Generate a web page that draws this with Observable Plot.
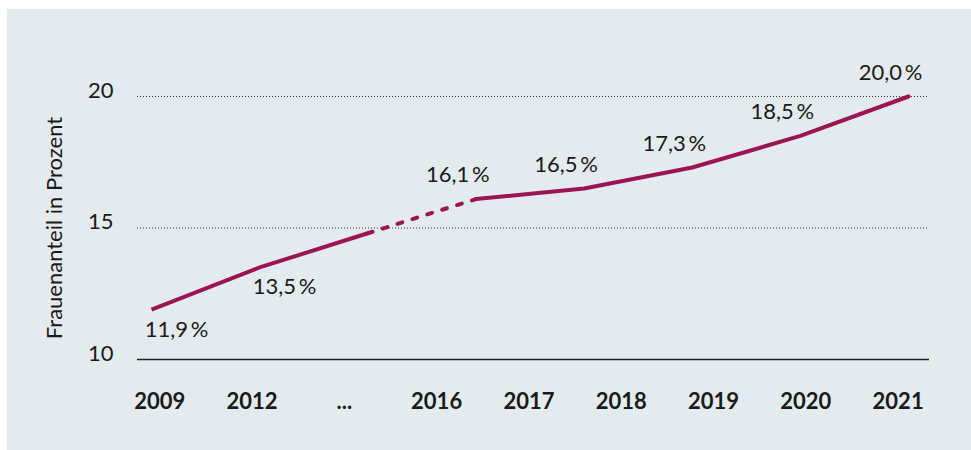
<!DOCTYPE html>
<html>
<head>
<meta charset="utf-8">
<script src="https://cdn.jsdelivr.net/npm/d3@7"></script>
<script src="https://cdn.jsdelivr.net/npm/@observablehq/plot@0.6"></script>
<style>
  body { margin: 0; background: #ffffff; }
  #chart { position: absolute; left: 7px; top: 9px; width: 964px; height: 441px; background: #e4ebee; }
  #chart svg { display: block; }
</style>
</head>
<body>
<div id="chart"></div>
<script>
// Axis categories (tick labels along the bottom)
const tickLabels = ["2009", "2012", "...", "2016", "2017", "2018", "2019", "2020", "2021"];
// Values (share of women, percent), in order along the line
const values = [11.9, 13.5, 16.1, 16.5, 17.3, 18.5, 20.0];
// Slot of each value along the line (slot 2 is the gap: "...")
const slots = [0, 1, 3, 4, 5, 6, 7];
// Value where the line turns from solid to dashed
const breakSlot = 2;
const breakValue = 14.8;
const yTicks = [10, 15, 20];
const yTitle = "Frauenanteil in Prozent";

const fmt = v => v.toFixed(1).replace(".", ",") + "\u2009%";

const points = slots.map((s, i) => ({ slot: s, value: values[i] }));
const solidA = [points[0], points[1], { slot: breakSlot, value: breakValue }];
const dashed = [{ slot: breakSlot, value: breakValue }, points[2]];
const solidB = points.slice(2);

// Tick label positions spread evenly across the axis (layout only)
const tickSlots = d3.range(tickLabels.length).map(i => 0.076 + i * 0.8535);
const tickMap = new Map(tickSlots.map((s, i) => [s, tickLabels[i]]));

const below = points.slice(0, 2);
const above = points.slice(2);

const lineColor = "#9b1554";
const textColor = "#1a1a1a";

const chart = Plot.plot({
  width: 964,
  height: 441,
  marginLeft: 130,
  marginRight: 42,
  marginTop: 87,
  marginBottom: 91,
  style: { background: "transparent", fontFamily: "Lato, 'Open Sans', sans-serif", fontSize: "22px", color: textColor, overflow: "visible" },
  x: { domain: [0, 7], range: [144, 901] },
  y: { domain: [10, 20] },
  marks: [
    Plot.ruleY(yTicks.filter(d => d > 10), { stroke: "#333", strokeWidth: 1, strokeDasharray: "1,2" }),
    Plot.ruleY([10], { stroke: "#222", strokeWidth: 1.5 }),
    Plot.axisY({ ticks: yTicks, tickSize: 0, tickPadding: 24, dy: -6, fontSize: 22, label: null, fill: textColor }),
    Plot.axisX({ ticks: tickSlots, tickFormat: d => tickMap.get(d), tickSize: 0, tickPadding: 34, fontSize: 22, fontWeight: "bold", label: null, fill: textColor }),
    Plot.text([yTitle], { frameAnchor: "left", textAnchor: "middle", dx: -83, rotate: -90, fontSize: 22, fill: textColor }),
    Plot.line(solidA, { x: "slot", y: "value", stroke: lineColor, strokeWidth: 4, strokeLinecap: "butt", strokeLinejoin: "round" }),
    Plot.line(dashed, { x: "slot", y: "value", stroke: lineColor, strokeWidth: 4, strokeLinecap: "round", strokeDasharray: "5,10.6" }),
    Plot.line(solidB, { x: "slot", y: "value", stroke: lineColor, strokeWidth: 4, strokeLinecap: "round", strokeLinejoin: "round" }),
    Plot.text(below, { x: "slot", y: "value", text: d => fmt(d.value), dx: 25, dy: 20, fontSize: 22, fill: textColor }),
    Plot.text(above, { x: "slot", y: "value", text: d => fmt(d.value), dx: -18, dy: -24, fontSize: 22, fill: textColor })
  ]
});
document.getElementById("chart").appendChild(chart);
</script>
</body>
</html>
